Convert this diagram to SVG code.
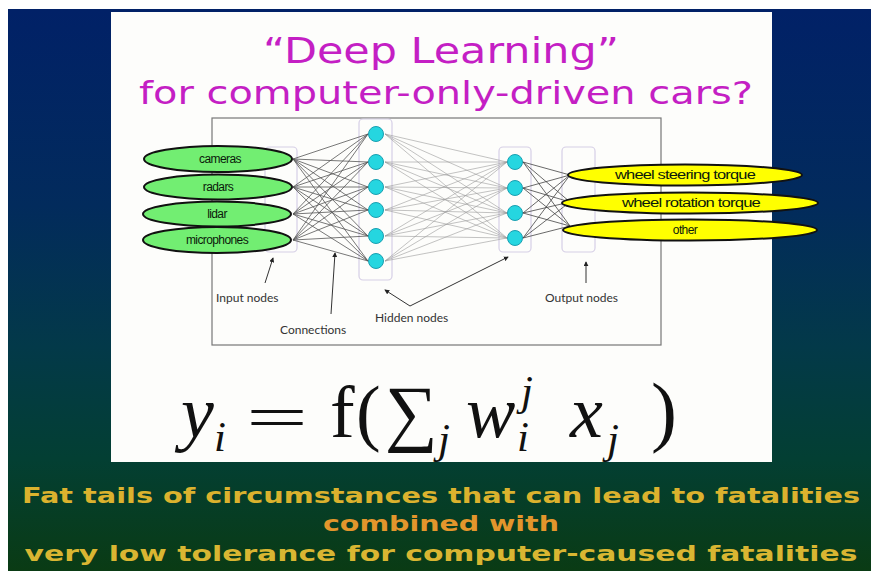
<svg xmlns="http://www.w3.org/2000/svg" width="871" height="571" viewBox="0 0 871 571">
<defs>
<linearGradient id="bg" x1="0" y1="0" x2="0" y2="1">
<stop offset="0" stop-color="#012167"/>
<stop offset="0.35" stop-color="#022b5c"/>
<stop offset="0.6" stop-color="#033949"/>
<stop offset="0.8" stop-color="#033f33"/>
<stop offset="1" stop-color="#0a3b14"/>
</linearGradient>
<marker id="ah" viewBox="0 0 6 6" refX="5" refY="3" markerWidth="5" markerHeight="5" orient="auto">
<path d="M0,0 L6,3 L0,6 z" fill="#222"/>
</marker>
<style>
.title{font-family:"DejaVu Sans","Liberation Sans",sans-serif;fill:#c41fc4;text-anchor:middle}
.lbl{font-family:Lato,"Open Sans",sans-serif;font-size:12px;fill:#333}
.in{fill:#72ee72;stroke:#111;stroke-width:2}
.out{fill:#ffff00;stroke:#111;stroke-width:2}
.et{font-family:"Liberation Sans",Arial,sans-serif;font-size:12px;fill:#0b1a0b;text-anchor:middle;letter-spacing:-0.6px}
.layer{fill:none;stroke:#d6cfe6;stroke-width:1.2}
.hn{fill:#25d6e0;stroke:#1a9fb0;stroke-width:1}
.c1{stroke:#555;stroke-width:0.8}
.c2{stroke:#9a9a9a;stroke-width:0.6}
.c3{stroke:#444;stroke-width:0.8}
.ptr{stroke:#333;stroke-width:1;fill:none}
.fm{font-family:"Liberation Serif","Times New Roman",serif;fill:#111}
.it{font-style:italic}
.big{font-size:74px}
.sm{font-size:43px}
.bt{font-family:"DejaVu Sans",Verdana,sans-serif;font-weight:bold;font-size:22px;text-anchor:middle}
</style>
</defs>
<rect x="0" y="0" width="871" height="571" fill="#ffffff"/>
<rect x="8" y="9" width="863" height="562" fill="url(#bg)"/>
<rect x="111" y="12" width="661" height="450" fill="#fdfdfb"/>

<g id="title">
<text class="title" x="441" y="63" font-size="36" textLength="356" lengthAdjust="spacingAndGlyphs">“Deep Learning”</text>
<text class="title" x="446" y="104" font-size="32" textLength="614" lengthAdjust="spacingAndGlyphs">for computer-only-driven cars?</text>
</g>

<g id="frame">
<rect x="212" y="118" width="449" height="227" fill="none" stroke="#777" stroke-width="1.2"/>
</g>

<g id="layer-boxes">
<rect class="layer" x="265" y="147" width="32" height="105" rx="4"/>
<rect class="layer" x="359" y="119" width="33" height="161" rx="4"/>
<rect class="layer" x="499" y="147" width="32" height="105" rx="4"/>
<rect class="layer" x="562" y="147" width="33" height="105" rx="4"/>
</g>

<g id="connectors">
<g id="in-h1" class="c1">
<line x1="293" y1="159" x2="368" y2="134"/><line x1="293" y1="159" x2="368" y2="162"/><line x1="293" y1="159" x2="368" y2="187"/><line x1="293" y1="159" x2="368" y2="210"/><line x1="293" y1="159" x2="368" y2="236"/><line x1="293" y1="159" x2="368" y2="261"/>
<line x1="293" y1="187" x2="368" y2="134"/><line x1="293" y1="187" x2="368" y2="162"/><line x1="293" y1="187" x2="368" y2="187"/><line x1="293" y1="187" x2="368" y2="210"/><line x1="293" y1="187" x2="368" y2="236"/><line x1="293" y1="187" x2="368" y2="261"/>
<line x1="293" y1="214" x2="368" y2="134"/><line x1="293" y1="214" x2="368" y2="162"/><line x1="293" y1="214" x2="368" y2="187"/><line x1="293" y1="214" x2="368" y2="210"/><line x1="293" y1="214" x2="368" y2="236"/><line x1="293" y1="214" x2="368" y2="261"/>
<line x1="293" y1="240" x2="368" y2="134"/><line x1="293" y1="240" x2="368" y2="162"/><line x1="293" y1="240" x2="368" y2="187"/><line x1="293" y1="240" x2="368" y2="210"/><line x1="293" y1="240" x2="368" y2="236"/><line x1="293" y1="240" x2="368" y2="261"/>
</g>
<g id="h1-h2" class="c2">
<line x1="385" y1="134" x2="507" y2="162"/><line x1="385" y1="134" x2="507" y2="188"/><line x1="385" y1="134" x2="507" y2="213"/><line x1="385" y1="134" x2="507" y2="238"/>
<line x1="385" y1="162" x2="507" y2="162"/><line x1="385" y1="162" x2="507" y2="188"/><line x1="385" y1="162" x2="507" y2="213"/><line x1="385" y1="162" x2="507" y2="238"/>
<line x1="385" y1="187" x2="507" y2="162"/><line x1="385" y1="187" x2="507" y2="188"/><line x1="385" y1="187" x2="507" y2="213"/><line x1="385" y1="187" x2="507" y2="238"/>
<line x1="385" y1="210" x2="507" y2="162"/><line x1="385" y1="210" x2="507" y2="188"/><line x1="385" y1="210" x2="507" y2="213"/><line x1="385" y1="210" x2="507" y2="238"/>
<line x1="385" y1="236" x2="507" y2="162"/><line x1="385" y1="236" x2="507" y2="188"/><line x1="385" y1="236" x2="507" y2="213"/><line x1="385" y1="236" x2="507" y2="238"/>
<line x1="385" y1="261" x2="507" y2="162"/><line x1="385" y1="261" x2="507" y2="188"/><line x1="385" y1="261" x2="507" y2="213"/><line x1="385" y1="261" x2="507" y2="238"/>
</g>
<g id="h2-out" class="c3">
<line x1="523" y1="162" x2="570" y2="175"/><line x1="523" y1="162" x2="570" y2="202"/><line x1="523" y1="162" x2="570" y2="226"/>
<line x1="523" y1="188" x2="570" y2="175"/><line x1="523" y1="188" x2="570" y2="202"/><line x1="523" y1="188" x2="570" y2="226"/>
<line x1="523" y1="213" x2="570" y2="175"/><line x1="523" y1="213" x2="570" y2="202"/><line x1="523" y1="213" x2="570" y2="226"/>
<line x1="523" y1="238" x2="570" y2="175"/><line x1="523" y1="238" x2="570" y2="202"/><line x1="523" y1="238" x2="570" y2="226"/>
</g>
<g id="pointers" class="ptr">
<line x1="265" y1="283" x2="273" y2="258" marker-end="url(#ah)"/>
<line x1="331" y1="314" x2="335" y2="253" marker-end="url(#ah)"/>
<polyline points="410,306 508,257" marker-end="url(#ah)"/>
<line x1="410" y1="306" x2="385" y2="290" marker-end="url(#ah)"/>
<line x1="586" y1="283" x2="586" y2="262" marker-end="url(#ah)"/>
</g>
</g>

<g id="input-cameras"><ellipse class="in" cx="218" cy="159" rx="74" ry="13"/><text class="et" x="220" y="163">cameras</text></g>
<g id="input-radars"><ellipse class="in" cx="218" cy="187" rx="74" ry="12.5"/><text class="et" x="218" y="191">radars</text></g>
<g id="input-lidar"><ellipse class="in" cx="217" cy="214" rx="74" ry="12.5"/><text class="et" x="217" y="218">lidar</text></g>
<g id="input-microphones"><ellipse class="in" cx="217" cy="240" rx="74" ry="13"/><text class="et" x="217" y="244">microphones</text></g>

<g id="hidden1">
<circle class="hn" cx="376" cy="134" r="7.5"/><circle class="hn" cx="376" cy="162" r="7.5"/><circle class="hn" cx="376" cy="187" r="7.5"/><circle class="hn" cx="376" cy="210" r="7.5"/><circle class="hn" cx="376" cy="236" r="7.5"/><circle class="hn" cx="376" cy="261" r="7.5"/>
</g>
<g id="hidden2">
<circle class="hn" cx="515" cy="162" r="7.5"/><circle class="hn" cx="515" cy="188" r="7.5"/><circle class="hn" cx="515" cy="213" r="7.5"/><circle class="hn" cx="515" cy="238" r="7.5"/>
</g>

<g id="output-steering"><ellipse class="out" cx="685" cy="175" rx="117" ry="10.5"/><text class="et" x="685" y="179" textLength="140" lengthAdjust="spacingAndGlyphs">wheel steering torque</text></g>
<g id="output-rotation"><ellipse class="out" cx="690" cy="203" rx="128" ry="10.5"/><text class="et" x="691" y="207" textLength="138" lengthAdjust="spacingAndGlyphs">wheel rotation torque</text></g>
<g id="output-other"><ellipse class="out" cx="690" cy="230" rx="127" ry="10.5"/><text class="et" x="685" y="234">other</text></g>

<g id="labels">
<text class="lbl" x="216" y="302">Input nodes</text>
<text class="lbl" x="280" y="334">Connections</text>
<text class="lbl" x="375" y="322">Hidden nodes</text>
<text class="lbl" x="545" y="302">Output nodes</text>
</g>

<g id="formula" class="fm">
<text class="it big" x="181" y="437">y</text>
<text class="it sm" x="214" y="451">i</text>
<text x="246" y="437" font-size="60" textLength="62" lengthAdjust="spacingAndGlyphs">=</text>
<text class="big" x="330" y="437">f</text>
<text class="big" x="356" y="437">(</text>
<text class="big" x="385" y="437">∑</text>
<text class="it sm" x="438" y="453">j</text>
<text class="it big" x="466" y="437">w</text>
<text class="it sm" x="521" y="405">j</text>
<text class="it sm" x="517" y="451">i</text>
<text class="it big" x="570" y="437">x</text>
<text class="it sm" x="607" y="453">j</text>
<text x="651" y="437" font-size="78">)</text>
</g>

<g id="caption">
<text class="bt" x="441" y="503" fill="#dbb22e" textLength="838" lengthAdjust="spacingAndGlyphs">Fat tails of circumstances that can lead to fatalities</text>
<text class="bt" x="441" y="531" fill="#e3962c" textLength="236" lengthAdjust="spacingAndGlyphs">combined with</text>
<text class="bt" x="441" y="561" fill="#d9b632" textLength="833" lengthAdjust="spacingAndGlyphs">very low tolerance for computer-caused fatalities</text>
</g>
</svg>
